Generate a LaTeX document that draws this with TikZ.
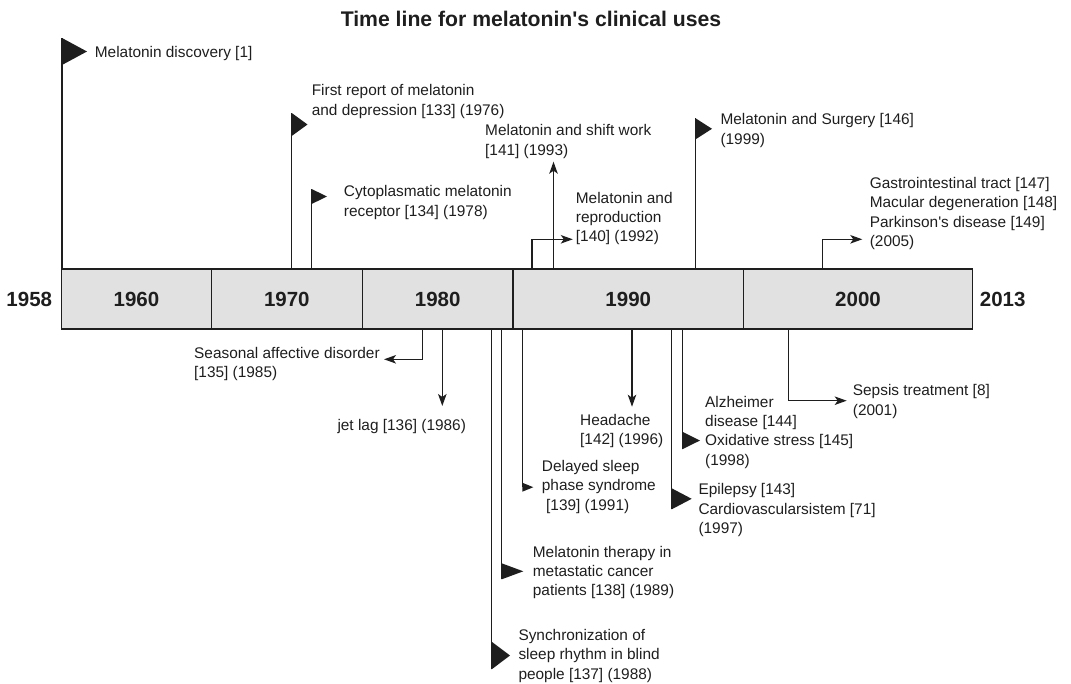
\documentclass[tikz,border=0pt]{standalone}
\usepackage{fontspec}
\setmainfont{Liberation Sans}
\usetikzlibrary{arrows.meta}

\definecolor{linegray}{HTML}{1E1E1E}
\definecolor{boxgray}{HTML}{E1E1E1}

\newcommand{\evtfont}{\fontsize{15.4}{19.4}\selectfont}
\newcommand{\yrfont}{\fontsize{20.5}{24}\selectfont\bfseries}

\tikzset{
    evt/.style={anchor=base west, align=left, inner sep=0pt, text=linegray, font=\evtfont},
    yrbox/.style={draw=linegray, fill=boxgray, line width=1.2pt, minimum height=60pt, inner sep=0pt, text=linegray, font=\yrfont},
    yrend/.style={inner sep=0pt, text=linegray, font=\yrfont},
    pole/.style={draw=linegray, line width=1.2pt},
    arr/.style={pole, -{Stealth[length=12pt, width=8.5pt, inset=3pt]}},
    flag/.style={fill=linegray},
}

\begin{document}
\begin{tikzpicture}[x=1pt, y=-1pt]
    \useasboundingbox (0,0) rectangle (1071,683);

    \node (title) [anchor=base, inner sep=0pt, text=linegray, font=\fontsize{21.2}{24}\selectfont\bfseries]
        at (531,26) {Time line for melatonin\textquotesingle s clinical uses};

    % decades
    \node (d1960) [yrbox, minimum width=149.9pt] at (136.45,299) {1960};
    \node (d1970) [yrbox, minimum width=150.9pt] at (286.85,299) {1970};
    \node (d1980) [yrbox, minimum width=150.7pt] at (437.65,299) {1980};
    \node (d1990) [yrbox, minimum width=230.5pt] at (628.25,299) {1990};
    \node (d2000) [yrbox, minimum width=229pt]   at (858,299)    {2000};
    \node (y1958) [yrend, anchor=east] at (52.3,299)  {1958};
    \node (y2013) [yrend, anchor=west] at (979.7,299) {2013};

    % events above the bar (placed by the baseline of their last line)
    \node (e1958) [evt] at (94.7,57.2)  {Melatonin discovery [1]};
    \node (e1976) [evt] at (311.6,115.2) {First report of melatonin\\and depression [133] (1976)};
    \node (e1978) [evt] at (343.7,216.2) {Cytoplasmatic melatonin\\receptor [134] (1978)};
    \node (e1993) [evt] at (485,155.2)  {Melatonin and shift work\\{}[141] (1993)};
    \node (e1992) [evt] at (575.7,241.9) {Melatonin and\\reproduction\\{}[140] (1992)};
    \node (e1999) [evt] at (720.3,144.2) {Melatonin and Surgery [146]\\(1999)};
    \node (e2005) [evt] at (869.6,246.5) {Gastrointestinal tract [147]\\Macular degeneration [148]\\Parkinson\textquotesingle s disease [149]\\(2005)};

    % events below the bar
    \node (e1985) [evt] at (194,377.5)   {Seasonal affective disorder\\{}[135] (1985)};
    \node (e1986) [evt] at (337.3,430.5) {jet lag [136] (1986)};
    \node (e1988) [evt] at (518.3,679.2) {Synchronization of\\sleep rhythm in blind\\people [137] (1988)};
    \node (e1989) [evt] at (532.7,595.9) {Melatonin therapy in\\metastatic cancer\\patients [138] (1989)};
    \node (e1991) [evt] at (541.7,510.2) {Delayed sleep\\phase syndrome\\\hspace*{4.3pt}[139] (1991)};
    \node (e1996) [evt] at (580,444.5)   {Headache\\{}[142] (1996)};
    \node (e1997) [evt] at (698.3,533.5) {Epilepsy [143]\\Cardiovascularsistem [71]\\(1997)};
    \node (e1998) [evt] at (705,465.2)   {Alzheimer\\disease [144]\\Oxidative stress [145]\\(1998)};
    \node (e2001) [evt] at (852.7,415.2) {Sepsis treatment [8]\\(2001)};

    % where the poles leave the bar
    \coordinate (b1958) at (62,269);
    \coordinate (b1976) at (291.7,269);
    \coordinate (b1978) at (311.6,269);
    \coordinate (b1992) at (532,269);
    \coordinate (b1993) at (553.5,269);
    \coordinate (b1999) at (695.6,269);
    \coordinate (b2005) at (822.7,269);
    \coordinate (b1985) at (422.7,329);
    \coordinate (b1986) at (442.3,329);
    \coordinate (b1988) at (491.7,329);
    \coordinate (b1989) at (501.7,329);
    \coordinate (b1991) at (522.3,329);
    \coordinate (b1996) at (632,329);
    \coordinate (b1997) at (671.7,329);
    \coordinate (b1998) at (682.3,329);
    \coordinate (b2001) at (788.3,329);

    % pole ends and arrow tips
    \coordinate (f1958) at (62,38);
    \coordinate (f1976) at (291.7,113);
    \coordinate (f1978) at (311.6,189);
    \coordinate (f1999) at (695.6,118.3);
    \coordinate (f1988) at (491.7,669.3);
    \coordinate (f1989) at (501.7,579.3);
    \coordinate (f1991) at (522.3,491.7);
    \coordinate (f1997) at (671.7,509.3);
    \coordinate (f1998) at (682.3,449.3);
    \coordinate (a1993) at (553.5,161.7);
    \coordinate (a1992) at (572.8,239.3);
    \coordinate (a2005) at (862.3,239.3);
    \coordinate (a1985) at (384,359.3);
    \coordinate (a1986) at (442.3,406);
    \coordinate (a1996) at (632,406.7);
    \coordinate (a2001) at (846.7,400.7);

    % flags
    \draw[pole] (b1958) -- (f1958);
    \draw[pole] (b1976) -- (f1976);
    \draw[pole] (b1978) -- (f1978);
    \draw[pole] (b1999) -- (f1999);
    \draw[pole] (b1988) -- (f1988);
    \draw[pole] (b1989) -- (f1989);
    \draw[pole] (b1991) -- ([yshift=4.5pt]f1991);
    \draw[pole] (b1997) -- (f1997);
    \draw[pole] (b1998) -- (f1998);
    \fill[flag] (f1958) -- ++(25,13.5) -- ++(-25,13.5) -- cycle;
    \fill[flag] (f1976) -- ++(15.8,11.5) -- ++(-15.8,11.5) -- cycle;
    \fill[flag] (f1978) -- ++(15.4,7.5) -- ++(-15.4,7.5) -- cycle;
    \fill[flag] (f1999) -- ++(16.4,10.5) -- ++(-16.4,10.5) -- cycle;
    \fill[flag] (f1988) -- ++(0,-27.6) -- ++(18.3,13.8) -- cycle;
    \fill[flag] (f1989) -- ++(0,-16) -- ++(21.6,8) -- cycle;
    \fill[flag] (f1991) -- ++(0,-9) -- ++(11,4.5) -- cycle;
    \fill[flag] (f1997) -- ++(0,-21) -- ++(20,10.5) -- cycle;
    \fill[flag] (f1998) -- ++(0,-17.6) -- ++(17.7,8.8) -- cycle;

    % arrows
    \draw[arr] (b1993) -- (a1993);
    \draw[arr] (b1992) |- (a1992);
    \draw[arr] (b2005) |- (a2005);
    \draw[arr] (b1985) |- (a1985);
    \draw[arr] (b1986) -- (a1986);
    \draw[arr] (b1996) -- (a1996);
    \draw[arr] (b2001) |- (a2001);
\end{tikzpicture}
\end{document}
